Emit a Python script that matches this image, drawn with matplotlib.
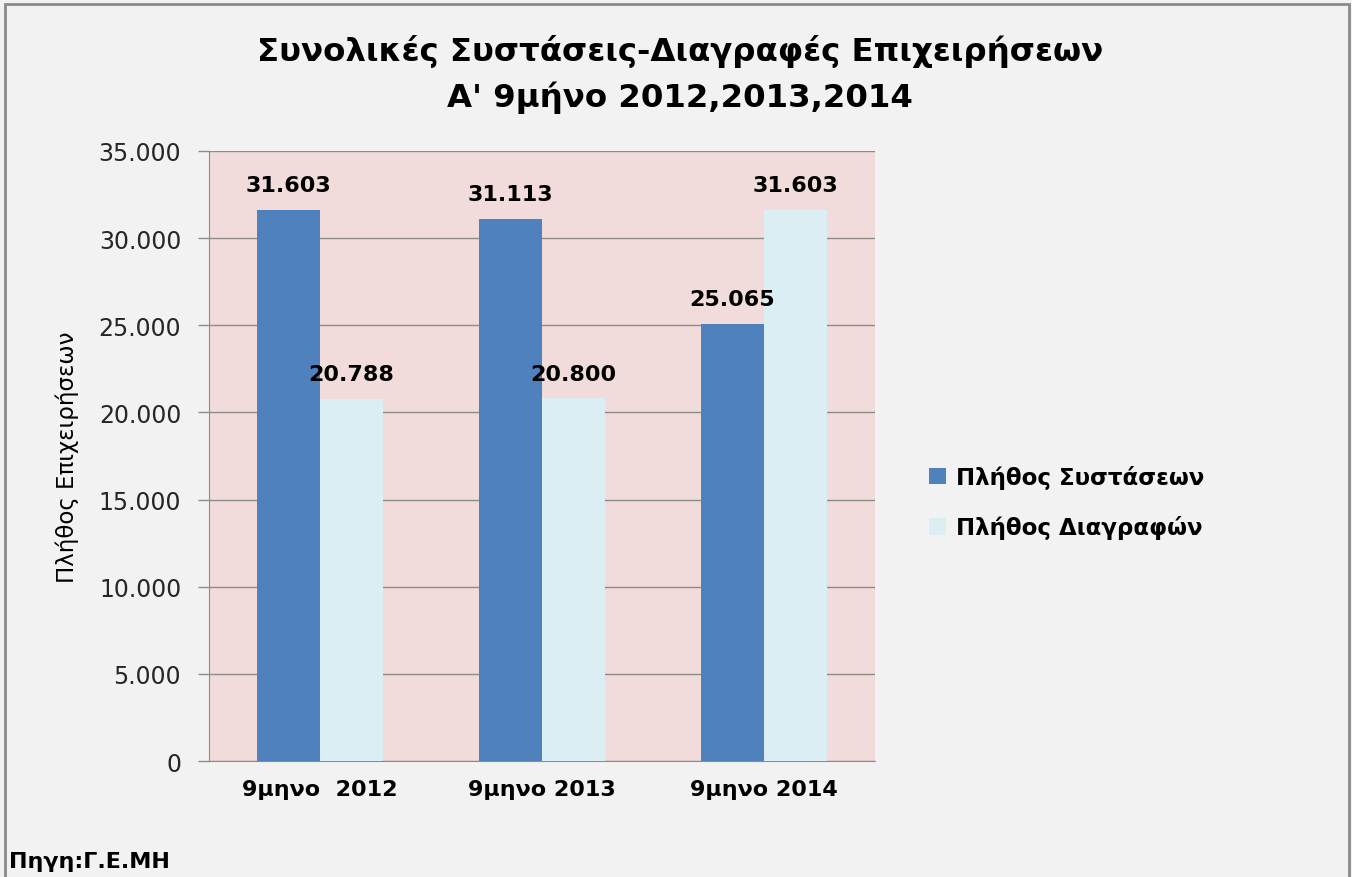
import matplotlib.pyplot as plt
import numpy as np
from matplotlib.ticker import FuncFormatter

# Δεδομένα
katigories = ["9μηνο  2012", "9μηνο 2013", "9μηνο 2014"]
systaseis = [31603, 31113, 25065]
diagrafes = [20788, 20800, 31603]
etiketes_systaseis = ["31.603", "31.113", "25.065"]
etiketes_diagrafes = ["20.788", "20.800", "31.603"]

plt.rcParams['font.family'] = ['DejaVu Sans']

fig = plt.figure(figsize=(13.52, 8.78), dpi=100, facecolor='#f2f2f2')
ax = fig.add_axes([0.1546, 0.1321, 0.4926, 0.6948])
ax.set_facecolor('#f2dcdb')

x = np.arange(len(katigories))
w = 0.285
b1 = ax.bar(x - w / 2, systaseis, w, color='#4f81bd', label='Πλήθος Συστάσεων', zorder=3)
b2 = ax.bar(x + w / 2, diagrafes, w, color='#dbeef4', label='Πλήθος Διαγραφών', zorder=3)

# Ετικέτες τιμών
for rect, lab in zip(b1, etiketes_systaseis):
    ax.text(rect.get_x() + rect.get_width() / 2, rect.get_height() + 850, lab,
            ha='center', va='bottom', fontsize=16, fontweight='bold')
for rect, lab in zip(b2, etiketes_diagrafes):
    ax.text(rect.get_x() + rect.get_width() / 2, rect.get_height() + 850, lab,
            ha='center', va='bottom', fontsize=16, fontweight='bold')

ax.set_xlim(-0.5, 2.5)
ax.set_ylim(0, 35000)
ax.set_yticks(np.arange(0, 35001, 5000))
ax.yaxis.set_major_formatter(FuncFormatter(lambda v, p: f"{int(v):,}".replace(",", ".")))
ax.set_xticks(x)
ax.set_xticklabels(katigories, fontsize=16, fontweight='bold')
ax.grid(axis='y', color='#8c8c8c', linewidth=1, zorder=0)
ax.tick_params(axis='y', length=8, width=1, color='#8c8c8c', pad=12, labelsize=17, labelcolor='#262626')
ax.tick_params(axis='x', length=0, pad=13)

for s in ['top', 'right']:
    ax.spines[s].set_visible(False)
ax.spines['left'].set_color('#8c8c8c')
ax.spines['bottom'].set_color('#8c8c8c')

ax.set_ylabel('Πλήθος Επιχειρήσεων', fontsize=16.5, labelpad=14)

# Τίτλος
fig.text(0.503, 0.941, 'Συνολικές Συστάσεις-Διαγραφές Επιχειρήσεων',
         ha='center', va='center', fontsize=23.3, fontweight='bold')
fig.text(0.503, 0.889, "Α' 9μήνο 2012,2013,2014",
         ha='center', va='center', fontsize=23.3, fontweight='bold')

# Υπόμνημα
leg = fig.legend(handles=[b1, b2], loc='center left', bbox_to_anchor=(0.672, 0.427),
                 frameon=False, handlelength=0.75, handleheight=0.75,
                 handletextpad=0.4, labelspacing=1.15,
                 prop={'size': 16.5, 'weight': 'bold'})

# Πηγή
fig.text(0.007, 0.018, 'Πηγη:Γ.Ε.ΜΗ', ha='left', va='center', fontsize=16, fontweight='bold')

# Περίγραμμα
fig.add_artist(plt.Rectangle((0.004, -0.01), 0.994, 1.004, transform=fig.transFigure,
                             fill=False, edgecolor='#8a8a8a', linewidth=2))

fig.savefig('out.png', dpi=100, facecolor=fig.get_facecolor())
